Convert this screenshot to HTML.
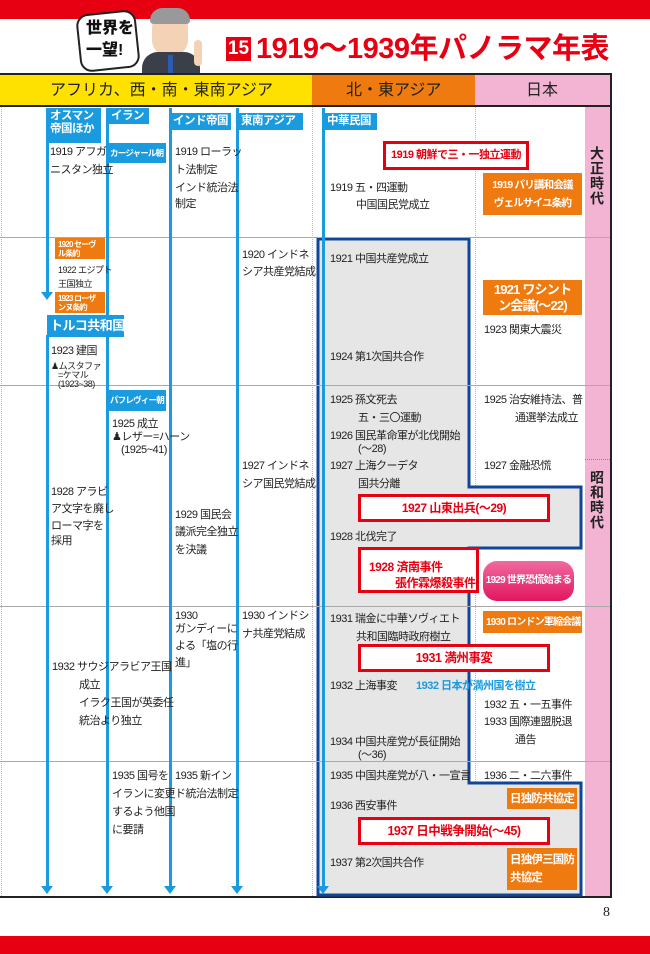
<!DOCTYPE html>
<html><head><meta charset="utf-8">
<style>
*{margin:0;padding:0;box-sizing:border-box}
body{width:650px;height:954px;position:relative;background:#fff;overflow:hidden;font-family:"Liberation Sans","Noto Sans CJK JP",sans-serif;color:#222}
.a{position:absolute}
.t{position:absolute;font-size:11px;line-height:12px;white-space:nowrap;letter-spacing:-0.5px}
.s{font-size:9px;line-height:10px}
.bl{position:absolute;background:#1a9be0;color:#fff;font-weight:bold;font-size:11.5px;line-height:13px;padding:2px 3px;white-space:nowrap;letter-spacing:-0.5px;overflow:hidden}
.or{position:absolute;background:#ee7a10;color:#fff;font-weight:bold;font-size:11px;line-height:13px;padding:2px 3px;white-space:nowrap;letter-spacing:-0.8px;overflow:hidden}
.rd{position:absolute;background:#fff;border:3px solid #e60012;color:#e60012;font-weight:bold;font-size:11.5px;text-align:center;white-space:nowrap;letter-spacing:-0.5px}
.vl{position:absolute;width:3px;background:#1a9be0}
.ar{position:absolute;width:0;height:0;border-left:6px solid transparent;border-right:6px solid transparent;border-top:8px solid #1a9be0}
.hl{position:absolute;left:0;width:610px;height:1px;background:#aaa}
.dv{position:absolute;width:0;border-left:1px dotted #bbb}
.vt{position:absolute;writing-mode:vertical-rl;font-size:14px;font-weight:bold;color:#222;letter-spacing:1px}
</style></head><body>
<div class="a" style="left:0;top:0;width:650px;height:19px;background:#e60012"></div>
<div class="a" style="left:0;top:936px;width:650px;height:18px;background:#e60012"></div>

<div class="a" style="left:78px;top:12px;width:60px;height:58px;background:#fff;border:2px solid #222;border-radius:12px;transform:rotate(-6deg)"></div>
<div class="a" style="left:86px;top:18px;font-size:16px;font-weight:900;line-height:22px;color:#111">世界を<br>一望!</div>
<div class="a" style="left:152px;top:12px;width:36px;height:44px;background:#f3d2b5;border-radius:16px"></div>
<div class="a" style="left:150px;top:8px;width:40px;height:16px;background:#999;border-radius:14px 14px 4px 4px"></div>
<div class="a" style="left:142px;top:52px;width:58px;height:22px;background:#3a3f4a;border-radius:16px 16px 0 0"></div>
<div class="a" style="left:168px;top:55px;width:5px;height:18px;background:#2a5db0"></div>
<div class="a" style="left:194px;top:40px;width:8px;height:26px;background:#f3d2b5;border-radius:4px"></div>

<div class="a" style="left:226px;top:37px;width:25px;height:24px;background:#e60012;color:#fff;font-weight:bold;font-size:19px;line-height:24px;text-align:center">15</div>
<div class="a" style="left:256px;top:32px;font-size:29px;font-weight:bold;color:#e60012;letter-spacing:-0.5px;line-height:34px;white-space:nowrap">1919～1939年パノラマ年表</div>

<div class="a" style="left:0;top:73px;width:612px;height:2px;background:#222"></div>
<div class="a" style="left:0;top:75px;width:312px;height:31px;background:#ffe100"></div>
<div class="a" style="left:312px;top:75px;width:163px;height:31px;background:#ee7a10"></div>
<div class="a" style="left:475px;top:75px;width:135px;height:31px;background:#f3b4d4"></div>
<div class="a" style="left:0;top:105px;width:612px;height:2px;background:#222"></div>
<div class="a" style="left:610px;top:73px;width:2px;height:825px;background:#222"></div>
<div class="a" style="left:0;top:896px;width:612px;height:2px;background:#222"></div>
<div class="a" style="left:50px;top:80px;font-size:16px;line-height:22px">アフリカ、西・南・東南アジア</div>
<div class="a" style="left:346px;top:80px;font-size:16px;line-height:22px">北・東アジア</div>
<div class="a" style="left:526px;top:80px;font-size:16px;line-height:22px">日本</div>

<div class="a" style="left:585px;top:107px;width:25px;height:789px;background:#f3b4d4"></div>
<div class="a" style="left:585px;top:459px;width:25px;border-top:1px dotted #888"></div>
<div class="vt" style="left:587px;top:146px">大正時代</div>
<div class="vt" style="left:587px;top:470px">昭和時代</div>

<div class="dv" style="left:1px;top:107px;height:789px"></div>
<div class="dv" style="left:312px;top:107px;height:789px"></div>
<div class="dv" style="left:475px;top:107px;height:789px"></div>

<svg class="a" style="left:0;top:0" width="650" height="954">
<path d="M318 239 H469 V487 H581 V548 H469 V783 H581 V895 H318 Z" fill="#e6e6e6" stroke="#10469a" stroke-width="3"/>
</svg>

<div class="hl" style="top:237px"></div>
<div class="hl" style="top:385px"></div>
<div class="hl" style="top:606px"></div>
<div class="hl" style="top:761px"></div>

<div class="vl" style="left:46px;top:108px;height:186px"></div>
<div class="ar" style="left:41px;top:292px"></div>
<div class="vl" style="left:46px;top:335px;height:553px"></div>
<div class="ar" style="left:41px;top:886px"></div>
<div class="vl" style="left:106px;top:108px;height:780px"></div>
<div class="ar" style="left:101px;top:886px"></div>
<div class="vl" style="left:169px;top:108px;height:780px"></div>
<div class="ar" style="left:164px;top:886px"></div>
<div class="vl" style="left:236px;top:108px;height:780px"></div>
<div class="ar" style="left:231px;top:886px"></div>
<div class="vl" style="left:322px;top:108px;height:780px"></div>
<div class="ar" style="left:317px;top:886px"></div>

<div class="bl" style="left:47px;top:108px;width:54px;height:35px">オスマン<br>帝国ほか</div>
<div class="bl" style="left:108px;top:108px;width:41px;height:16px;line-height:12px">イラン</div>
<div class="bl" style="left:108px;top:143px;width:58px;height:20px;font-size:8.5px;line-height:16px;letter-spacing:-0.8px;padding:2px 2px">カージャール朝</div>
<div class="bl" style="left:170px;top:113px;width:61px;height:17px;line-height:13px">インド帝国</div>
<div class="bl" style="left:238px;top:113px;width:65px;height:17px;line-height:13px">東南アジア</div>
<div class="bl" style="left:324px;top:113px;width:53px;height:17px;line-height:13px">中華民国</div>
<div class="bl" style="left:47px;top:315px;width:77px;height:22px;font-size:13px;line-height:18px">トルコ共和国</div>
<div class="bl" style="left:108px;top:390px;width:58px;height:21px;font-size:8.5px;line-height:17px;letter-spacing:-0.8px;padding:2px 2px">パフレヴィー朝</div>

<div class="or" style="left:55px;top:238px;width:50px;height:21px;font-size:8px;line-height:9px">1920 セーヴ<br>ル条約</div>
<div class="or" style="left:55px;top:292px;width:50px;height:21px;font-size:8px;line-height:9px">1923 ローザ<br>ンヌ条約</div>
<div class="or" style="left:483px;top:173px;width:99px;height:42px;font-size:10.5px;line-height:18px;text-align:center;padding-top:3px">1919 パリ講和会議<br>ヴェルサイユ条約</div>
<div class="or" style="left:483px;top:280px;width:99px;height:35px;font-size:13px;line-height:16px;text-align:center">1921 ワシント<br>ン会議(～22)</div>
<div class="or" style="left:483px;top:611px;width:99px;height:22px;font-size:10px;line-height:19px;text-align:center">1930 ロンドン軍縮会議</div>
<div class="or" style="left:507px;top:788px;width:70px;height:21px;font-size:11.5px;line-height:19px">日独防共協定</div>
<div class="or" style="left:507px;top:848px;width:70px;height:42px;font-size:11.5px;line-height:18px;padding-top:3px">日独伊三国防<br>共協定</div>
<div class="a" style="left:483px;top:561px;width:91px;height:40px;border-radius:14px;background:linear-gradient(#f06aa0,#e2165f);color:#fff;font-weight:bold;font-size:10px;line-height:40px;text-align:center;white-space:nowrap;letter-spacing:-0.8px">1929 世界恐慌始まる</div>

<div class="rd" style="left:383px;top:141px;width:146px;height:29px;line-height:23px;font-size:11px">1919 朝鮮で三・一独立運動</div>
<div class="rd" style="left:358px;top:494px;width:192px;height:28px;line-height:22px;font-size:12px">1927 山東出兵(～29)</div>
<div class="rd" style="left:358px;top:547px;width:121px;height:46px;text-align:left;padding:9px 0 0 8px;line-height:16px;font-size:12px">1928 済南事件<br><span style="padding-left:26px">張作霖爆殺事件</span></div>
<div class="rd" style="left:358px;top:644px;width:192px;height:28px;line-height:22px;font-size:12.5px">1931 満州事変</div>
<div class="rd" style="left:358px;top:817px;width:192px;height:28px;line-height:22px;font-size:12.5px">1937 日中戦争開始(～45)</div>

<div class="t" style="left:50px;top:146px">1919 アフガ</div>
<div class="t" style="left:50px;top:164px">ニスタン独立</div>
<div class="t" style="left:175px;top:146px">1919 ローラッ</div>
<div class="t" style="left:175px;top:164px">ト法制定</div>
<div class="t" style="left:175px;top:182px">インド統治法</div>
<div class="t" style="left:175px;top:198px">制定</div>
<div class="t" style="left:330px;top:182px">1919 五・四運動</div>
<div class="t" style="left:356px;top:199px">中国国民党成立</div>

<div class="t s" style="left:58px;top:265px">1922 エジプト</div>
<div class="t s" style="left:58px;top:279px">王国独立</div>
<div class="t" style="left:242px;top:249px">1920 インドネ</div>
<div class="t" style="left:242px;top:266px">シア共産党結成</div>
<div class="t" style="left:330px;top:253px">1921 中国共産党成立</div>
<div class="t" style="left:484px;top:324px">1923 関東大震災</div>
<div class="t" style="left:330px;top:351px">1924 第1次国共合作</div>
<div class="t" style="left:51px;top:345px">1923 建国</div>
<div class="t s" style="left:51px;top:361px">♟ムスタファ</div>
<div class="t s" style="left:58px;top:370px">=ケマル</div>
<div class="t s" style="left:58px;top:379px">(1923~38)</div>

<div class="t" style="left:112px;top:418px">1925 成立</div>
<div class="t" style="left:112px;top:431px">♟レザー=ハーン</div>
<div class="t" style="left:121px;top:444px">(1925~41)</div>
<div class="t" style="left:330px;top:394px">1925 孫文死去</div>
<div class="t" style="left:358px;top:412px">五・三〇運動</div>
<div class="t" style="left:330px;top:430px">1926 国民革命軍が北伐開始</div>
<div class="t" style="left:358px;top:443px">(～28)</div>
<div class="t" style="left:330px;top:460px">1927 上海クーデタ</div>
<div class="t" style="left:358px;top:478px">国共分離</div>
<div class="t" style="left:484px;top:394px">1925 治安維持法、普</div>
<div class="t" style="left:515px;top:412px">通選挙法成立</div>
<div class="t" style="left:484px;top:460px">1927 金融恐慌</div>
<div class="t" style="left:242px;top:460px">1927 インドネ</div>
<div class="t" style="left:242px;top:478px">シア国民党結成</div>
<div class="t" style="left:51px;top:486px">1928 アラビ</div>
<div class="t" style="left:51px;top:503px">ア文字を廃し</div>
<div class="t" style="left:51px;top:520px">ローマ字を</div>
<div class="t" style="left:51px;top:535px">採用</div>
<div class="t" style="left:175px;top:509px">1929 国民会</div>
<div class="t" style="left:175px;top:526px">議派完全独立</div>
<div class="t" style="left:175px;top:544px">を決議</div>
<div class="t" style="left:330px;top:531px">1928 北伐完了</div>

<div class="t" style="left:175px;top:610px">1930</div>
<div class="t" style="left:175px;top:623px">ガンディーに</div>
<div class="t" style="left:175px;top:640px">よる「塩の行</div>
<div class="t" style="left:175px;top:657px">進」</div>
<div class="t" style="left:242px;top:610px">1930 インドシ</div>
<div class="t" style="left:242px;top:628px">ナ共産党結成</div>
<div class="t" style="left:330px;top:613px">1931 瑞金に中華ソヴィエト</div>
<div class="t" style="left:356px;top:631px">共和国臨時政府樹立</div>
<div class="t" style="left:52px;top:661px">1932 サウジアラビア王国</div>
<div class="t" style="left:79px;top:679px">成立</div>
<div class="t" style="left:79px;top:697px">イラク王国が英委任</div>
<div class="t" style="left:79px;top:715px">統治より独立</div>
<div class="t" style="left:330px;top:680px">1932 上海事変</div>
<div class="t" style="left:416px;top:680px;color:#1a9be0;font-weight:bold">1932 日本が満州国を樹立</div>
<div class="t" style="left:484px;top:699px">1932 五・一五事件</div>
<div class="t" style="left:484px;top:716px">1933 国際連盟脱退</div>
<div class="t" style="left:515px;top:734px">通告</div>
<div class="t" style="left:330px;top:736px">1934 中国共産党が長征開始</div>
<div class="t" style="left:358px;top:749px">(～36)</div>

<div class="t" style="left:112px;top:770px">1935 国号を</div>
<div class="t" style="left:112px;top:788px">イランに変更</div>
<div class="t" style="left:112px;top:806px">するよう他国</div>
<div class="t" style="left:112px;top:824px">に要請</div>
<div class="t" style="left:175px;top:770px">1935 新イン</div>
<div class="t" style="left:175px;top:788px">ド統治法制定</div>
<div class="t" style="left:330px;top:770px">1935 中国共産党が八・一宣言</div>
<div class="t" style="left:484px;top:770px">1936 二・二六事件</div>
<div class="t" style="left:330px;top:800px">1936 西安事件</div>
<div class="t" style="left:330px;top:857px">1937 第2次国共合作</div>

<div class="a" style="left:603px;top:905px;font-family:'Liberation Serif',serif;font-size:14px">8</div>
</body></html>
